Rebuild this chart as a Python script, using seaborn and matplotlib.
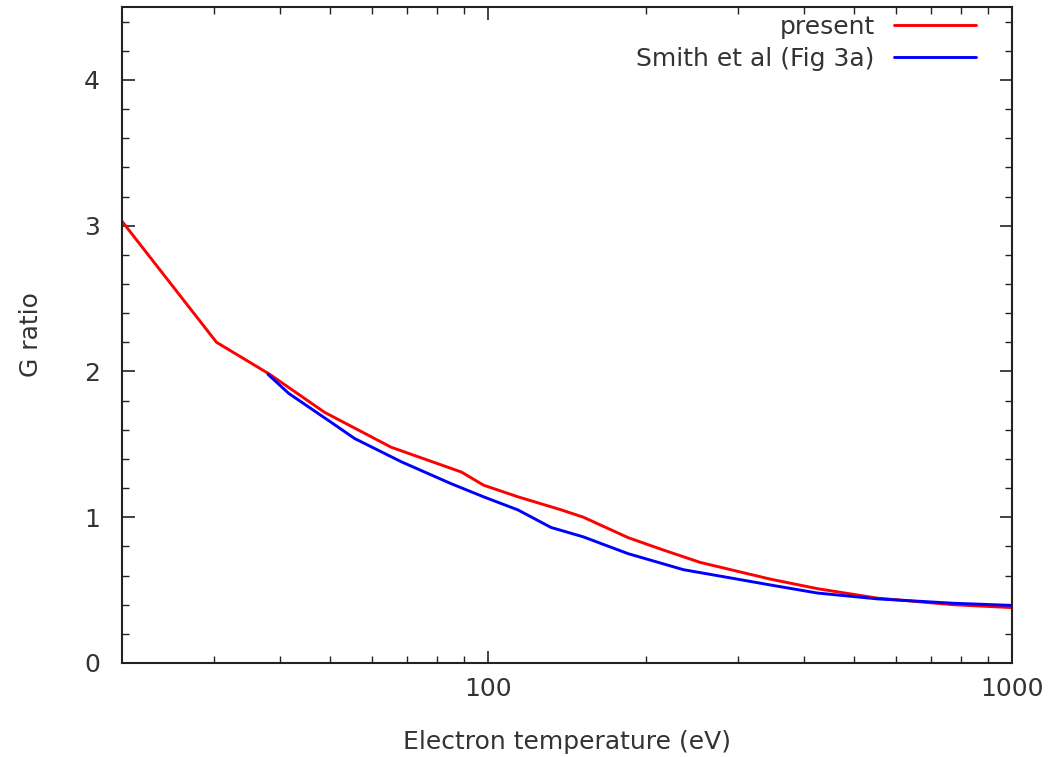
import numpy as np
import pandas as pd
import matplotlib
matplotlib.use("Agg")
import matplotlib.pyplot as plt
import seaborn as sns
from matplotlib.ticker import FixedLocator, MultipleLocator, NullFormatter

# Data
present_T = [20, 30.3, 38.3, 48.7, 65.3, 88.9, 98, 114, 138, 152, 185, 216, 254, 346, 425, 553, 772, 1000]
present_G = [3.03, 2.20, 1.98, 1.72, 1.48, 1.31, 1.22, 1.14, 1.05, 1.00, 0.86, 0.775, 0.69, 0.575, 0.51, 0.445, 0.40, 0.38]

smith_T = [38.0, 41.6, 50.2, 55.6, 68.3, 85.0, 98, 114, 131.8, 152, 185, 236, 294, 346, 425, 553, 772, 1000]
smith_G = [1.98, 1.85, 1.65, 1.54, 1.38, 1.23, 1.14, 1.05, 0.93, 0.865, 0.75, 0.64, 0.58, 0.535, 0.48, 0.44, 0.41, 0.395]

series_names = ["present", "Smith et al (Fig 3a)"]
series_colors = ["#ff0000", "#0000ff"]

df = pd.concat([
    pd.DataFrame({"T": present_T, "G": present_G, "series": series_names[0]}),
    pd.DataFrame({"T": smith_T, "G": smith_G, "series": series_names[1]}),
])

sns.set_style("ticks")
plt.rcParams["font.family"] = ["DejaVu Sans"]

FS = 18
TXT = "#333333"

fig = plt.figure(figsize=(10.49, 7.57), dpi=100)
ax = fig.add_axes([122/1049, 1 - 663/757, (1012-122)/1049, (663-7)/757])

sns.lineplot(data=df, x="T", y="G", hue="series", palette=series_colors,
             hue_order=series_names, sort=False, estimator=None, linewidth=2.1, ax=ax)

ax.set_xscale("log")
ax.set_xlim(20, 1000)
ax.set_ylim(0, 4.5)
ax.xaxis.set_major_locator(FixedLocator([100, 1000]))
ax.set_xticklabels(["100", "1000"])
ax.xaxis.set_minor_locator(FixedLocator([30, 40, 50, 60, 70, 80, 90, 200, 300, 400, 500, 600, 700, 800, 900]))
ax.xaxis.set_minor_formatter(NullFormatter())
ax.yaxis.set_minor_locator(MultipleLocator(0.2))
ax.set_yticks([0, 1, 2, 3, 4])
ax.set_yticklabels(["0", "1", "2", "3", "4"])

ax.tick_params(which="both", direction="in", top=True, right=True, colors="#222222",
               labelcolor=TXT, labelsize=FS)
ax.tick_params(which="major", length=9, width=1.2)
ax.tick_params(which="minor", length=5, width=1.0)
ax.tick_params(axis="x", which="major", pad=10)
ax.tick_params(axis="y", which="major", pad=16)
for s in ax.spines.values():
    s.set_linewidth(1.5)
    s.set_color("#222222")

ax.set_xlabel("Electron temperature (eV)", fontsize=FS, color=TXT, labelpad=21)
ax.set_ylabel("G ratio", fontsize=FS, color=TXT, labelpad=29)

leg = ax.legend(loc="upper right", frameon=False, markerfirst=False, fontsize=FS,
                handlelength=3.3, handletextpad=0.75, labelspacing=0.32, borderpad=0,
                bbox_to_anchor=(976/1049, 1 - 15/757), bbox_transform=fig.transFigure,
                borderaxespad=0)
for t in leg.get_texts():
    t.set_color(TXT)

fig.savefig("out.png", dpi=100)
